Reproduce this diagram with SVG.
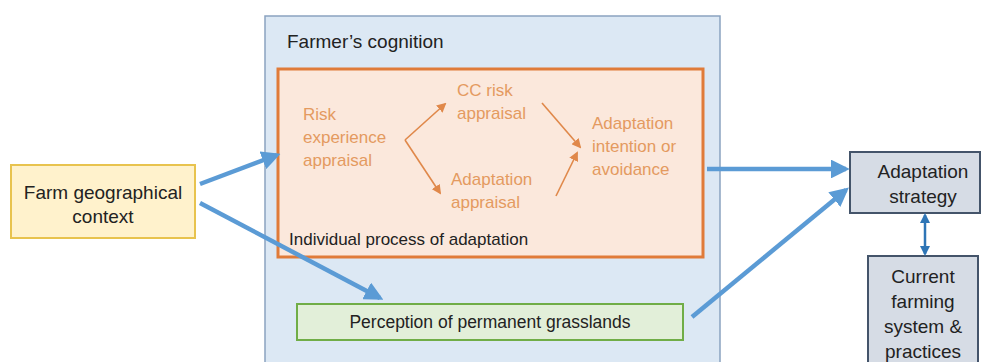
<svg xmlns="http://www.w3.org/2000/svg" width="984" height="362" viewBox="0 0 984 362">
<defs>
<style>
text{font-family:"Liberation Sans",Arial,sans-serif;fill:#222}
.o{fill:#e49a60;font-size:17px}
.c{text-anchor:middle}
.blue{stroke:#5b9bd5;stroke-width:4.5;fill:none}
.or{stroke:#e0884a;stroke-width:1.6;fill:none}
</style>
<marker id="ab" viewBox="0 0 10 10" refX="8" refY="5" markerWidth="4.2" markerHeight="4.2" orient="auto" markerUnits="strokeWidth"><path d="M0,0 L10,5 L0,10 z" fill="#5b9bd5"/></marker>
<marker id="ao" viewBox="0 0 10 10" refX="8" refY="5" markerWidth="6" markerHeight="6" orient="auto" markerUnits="strokeWidth"><path d="M0,0 L10,5 L0,10 z" fill="#e0884a"/></marker>
<marker id="ad" viewBox="0 0 10 10" refX="8" refY="5" markerWidth="4" markerHeight="4" orient="auto-start-reverse" markerUnits="strokeWidth"><path d="M0,0 L10,5 L0,10 z" fill="#2e75b6"/></marker>
</defs>
<rect width="984" height="362" fill="#ffffff"/>
<g id="cognition">
<rect x="265" y="16" width="455" height="360" fill="#dce8f4" stroke="#8aa3c0" stroke-width="1.5"/>
<text x="287" y="48" font-size="19">Farmer’s cognition</text>
</g>
<g id="individual">
<rect x="278" y="69" width="425" height="188" fill="#fbe8dc" stroke="#e07b39" stroke-width="3"/>
<text x="289" y="245" font-size="17">Individual process of adaptation</text>
</g>
<g id="risk"><text class="o" x="303" y="120">Risk</text><text class="o" x="303" y="143">experience</text><text class="o" x="303" y="166">appraisal</text></g>
<g id="ccrisk"><text class="o" x="457" y="96">CC risk</text><text class="o" x="457" y="119">appraisal</text></g>
<g id="adappr"><text class="o" x="451" y="185">Adaptation</text><text class="o" x="451" y="208">appraisal</text></g>
<g id="intention"><text class="o" x="592" y="129">Adaptation</text><text class="o" x="592" y="152">intention or</text><text class="o" x="592" y="175">avoidance</text></g>
<g id="farm">
<rect x="11" y="165" width="184" height="73" fill="#fff2cc" stroke="#e8c34e" stroke-width="2"/>
<text class="c" x="103" y="199" font-size="19">Farm geographical</text>
<text class="c" x="103" y="223" font-size="19">context</text>
</g>
<g id="perception">
<rect x="297" y="304" width="386" height="36" fill="#e2efd9" stroke="#70ad47" stroke-width="2"/>
<text class="c" x="490" y="328" font-size="17.5">Perception of permanent grasslands</text>
</g>
<g id="strategy">
<rect x="850" y="152" width="130" height="61" fill="#d6dce5" stroke="#44546a" stroke-width="2"/>
<text class="c" x="923" y="178" font-size="19">Adaptation</text>
<text class="c" x="923" y="203" font-size="19">strategy</text>
</g>
<g id="current">
<rect x="868" y="256" width="110" height="120" fill="#d6dce5" stroke="#44546a" stroke-width="2"/>
<text class="c" x="923" y="283" font-size="19">Current</text>
<text class="c" x="923" y="308" font-size="19">farming</text>
<text class="c" x="923" y="333" font-size="19">system &amp;</text>
<text class="c" x="923" y="358" font-size="19">practices</text>
</g>
<g id="connectors">
<line class="blue" x1="200" y1="184" x2="277" y2="155" marker-end="url(#ab)"/>
<line class="blue" x1="200" y1="203" x2="380" y2="298" marker-end="url(#ab)"/>
<line class="blue" x1="707" y1="169" x2="846" y2="169" marker-end="url(#ab)"/>
<line class="blue" x1="692" y1="317" x2="846" y2="190" marker-end="url(#ab)"/>
<line x1="925" y1="215" x2="925" y2="254" stroke="#2e75b6" stroke-width="2.5" marker-start="url(#ad)" marker-end="url(#ad)"/>
<line class="or" x1="405" y1="140" x2="445" y2="104" marker-end="url(#ao)"/>
<line class="or" x1="405" y1="140" x2="440" y2="193" marker-end="url(#ao)"/>
<line class="or" x1="542" y1="103" x2="580" y2="147" marker-end="url(#ao)"/>
<line class="or" x1="556" y1="196" x2="577" y2="153" marker-end="url(#ao)"/>
</g>
</svg>
